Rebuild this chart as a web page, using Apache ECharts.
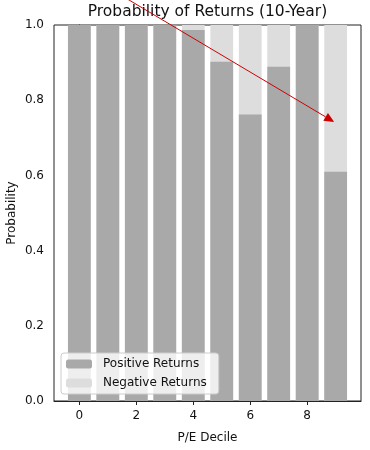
<!DOCTYPE html>
<html>
<head>
<meta charset="utf-8">
<script src="https://cdn.jsdelivr.net/npm/echarts@6/dist/echarts.min.js"></script>
<style>html,body{margin:0;padding:0;background:#fff}#c{width:370px;height:450px}</style>
</head>
<body>
<div id="c"></div>
<script>
const deciles = [0, 1, 2, 3, 4, 5, 6, 7, 8, 9];
const positiveReturns = [1.0, 1.0, 1.0, 1.0, 0.987, 0.902, 0.762, 0.889, 1.0, 0.61];
const negativeReturns = [0.0, 0.0, 0.0, 0.0, 0.013, 0.098, 0.238, 0.111, 0.0, 0.39];
const xTicks = [0, 2, 4, 6, 8];
const yTicks = [0, 0.2, 0.4, 0.6, 0.8, 1.0];
const arrowFrom = [1, 1.1];
const arrowTo = [8.95, 0.742];

const FONT = 'DejaVu Sans';
const X_MIN = -0.89, X_MAX = 9.89;
const G = {left: 54, right: 9, top: 25, bottom: 49};
const chart = echarts.init(document.getElementById('c'), null, {renderer: 'canvas'});
const gridW = chart.getWidth() - G.left - G.right;
const barW = 0.8 * gridW / (X_MAX - X_MIN);

chart.setOption({
  animation: false,
  backgroundColor: '#fff',
  title: {
    text: 'Probability of Returns (10-Year)',
    left: G.left + gridW / 2, textAlign: 'center', top: 4, padding: 0,
    textStyle: {fontFamily: FONT, fontSize: 15.5, fontWeight: 'normal', color: '#111'}
  },
  grid: {left: G.left, right: G.right, top: G.top, bottom: G.bottom, show: true,
         containLabel: false, outerBoundsMode: 'none',
         borderColor: '#222', borderWidth: 1, backgroundColor: 'transparent'},
  legend: {
    orient: 'vertical', left: 61, top: 353,
    data: ['Positive Returns', 'Negative Returns'],
    itemWidth: 26, itemHeight: 9, itemGap: 7,
    padding: [5, 12, 5, 5],
    backgroundColor: 'rgba(255,255,255,0.8)',
    borderColor: '#cccccc', borderWidth: 1, borderRadius: 3,
    textStyle: {fontFamily: FONT, fontSize: 12, color: '#111', padding: [0, 0, 0, 6]},
    selectedMode: false
  },
  xAxis: {
    type: 'value', min: X_MIN, max: X_MAX,
    name: 'P/E Decile', nameLocation: 'middle', nameGap: 31, nameMoveOverlap: false,
    nameTextStyle: {fontFamily: FONT, fontSize: 12, color: '#111'},
    axisLine: {show: true, lineStyle: {color: '#222', width: 1}},
    axisTick: {show: true, length: 4, customValues: xTicks, lineStyle: {color: '#222'}},
    axisLabel: {customValues: xTicks, fontFamily: FONT, fontSize: 12, color: '#111', margin: 9},
    splitLine: {show: false}
  },
  yAxis: {
    type: 'value', min: 0, max: 1, interval: 0.2,
    name: 'Probability', nameLocation: 'middle', nameGap: 36, nameMoveOverlap: false,
    nameTextStyle: {fontFamily: FONT, fontSize: 12, color: '#111'},
    axisLine: {show: true, lineStyle: {color: '#222', width: 1}},
    axisTick: {show: true, length: 4, lineStyle: {color: '#222'}},
    axisLabel: {fontFamily: FONT, fontSize: 12, color: '#111', margin: 10,
                formatter: v => v.toFixed(1)},
    splitLine: {show: false}
  },
  series: [
    {name: 'Negative Returns', type: 'bar', barWidth: barW, barGap: '-100%', z: 1,
     itemStyle: {color: '#dddddd'},
     data: deciles.map((d, i) => [d, positiveReturns[i] + negativeReturns[i]])},
    {name: 'Positive Returns', type: 'bar', barWidth: barW, barGap: '-100%', z: 2,
     itemStyle: {color: '#a9a9a9'},
     data: deciles.map((d, i) => [d, positiveReturns[i]])}
  ]
});

const p1 = chart.convertToPixel({gridIndex: 0}, arrowFrom);
const p2 = chart.convertToPixel({gridIndex: 0}, arrowTo);
const dx = p2[0] - p1[0], dy = p2[1] - p1[1];
const L = Math.hypot(dx, dy), ux = dx / L, uy = dy / L;
const HL = 10, HW = 4.5;
const base = [p2[0] - ux * HL, p2[1] - uy * HL];
chart.setOption({
  graphic: [
    {type: 'line', z: 100, shape: {x1: p1[0], y1: p1[1], x2: base[0], y2: base[1]},
     style: {stroke: '#cc0000', lineWidth: 1}},
    {type: 'polygon', z: 100, shape: {points: [p2, [base[0] - uy * HW, base[1] + ux * HW], [base[0] + uy * HW, base[1] - ux * HW]]},
     style: {fill: '#cc0000'}}
  ]
});
</script>
</body>
</html>
